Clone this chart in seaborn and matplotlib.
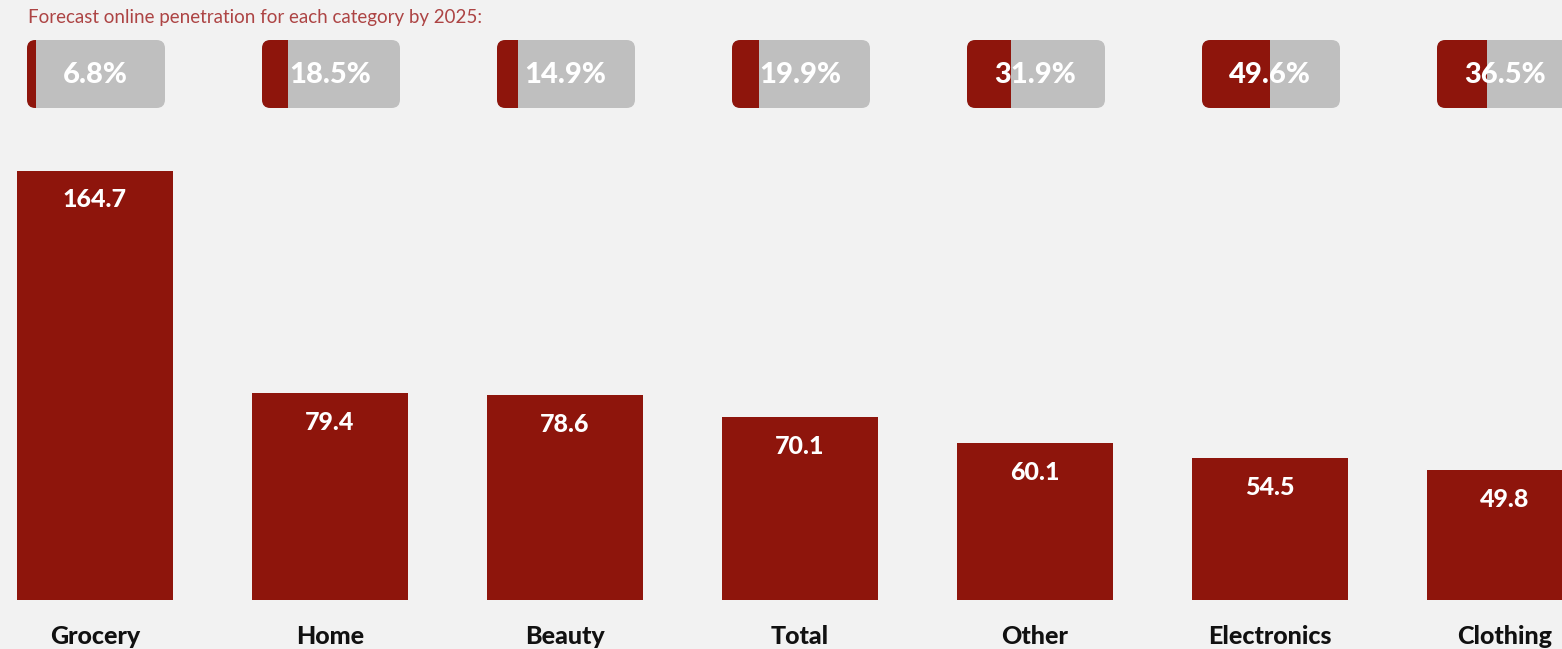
import matplotlib
matplotlib.use("Agg")
import matplotlib.pyplot as plt
import seaborn as sns
import pandas as pd
from matplotlib.patches import FancyBboxPatch, Rectangle

categories = ["Grocery", "Home", "Beauty", "Total", "Other", "Electronics", "Clothing"]
spend = [164.7, 79.4, 78.6, 70.1, 60.1, 54.5, 49.8]
penetration = [6.8, 18.5, 14.9, 19.9, 31.9, 49.6, 36.5]
title = "Forecast online penetration for each category by 2025:"

RED = "#8E150C"
GRAY = "#BFBFBF"
BG = "#F2F2F2"

sns.set_theme(style="white")
plt.rcParams["font.family"] = ["Lato", "DejaVu Sans"]

W, H = 1562, 649
fig = plt.figure(figsize=(W / 100, H / 100), dpi=100, facecolor=BG)
ax = fig.add_axes([0, 49 / H, 1, 600 / H])
ax.set_facecolor(BG)

df = pd.DataFrame({"cat": categories, "val": spend})
sns.barplot(data=df, x="cat", y="val", color=RED, width=0.66, ax=ax,
            saturation=1, edgecolor="none")

px_per_x = 235.0
ymax = 600 / 2.605
ax.set_xlim(-95 / px_per_x, (W - 95) / px_per_x)
ax.set_ylim(0, ymax)
for s in ax.spines.values():
    s.set_visible(False)
ax.set_yticks([])
ax.set_xlabel("")
ax.set_ylabel("")
ax.tick_params(axis="x", length=0, pad=18)
ax.set_xticks(range(len(categories)))
ax.set_xticklabels(categories, fontsize=18, fontweight="black", color="#111111")

# value labels inside bars
for i, v in enumerate(spend):
    ax.text(i, v - 29 / 2.605, f"{v:.1f}", ha="center", va="center",
            color="white", fontsize=18, fontweight="black")

# penetration pills
pill_w = 138 / px_per_x
y_top = ymax - 40 / 2.605
y_bot = ymax - 108 / 2.605
aspect = px_per_x / 2.605
for i, p in enumerate(penetration):
    x0 = i - pill_w / 2 + 1 / px_per_x
    pill = FancyBboxPatch((x0, y_bot), pill_w, y_top - y_bot,
                          boxstyle="round,pad=0,rounding_size=0.036",
                          mutation_aspect=aspect, facecolor=GRAY,
                          edgecolor="none", clip_on=False, zorder=3)
    ax.add_patch(pill)
    fill = Rectangle((x0, y_bot), pill_w * p / 100, y_top - y_bot,
                     facecolor=RED, edgecolor="none", zorder=4)
    ax.add_patch(fill)
    fill.set_clip_path(pill)
    ax.text(i, (y_top + y_bot) / 2 - 1 / 2.605, f"{p}%", ha="center", va="center",
            color="white", fontsize=21, fontweight="black", zorder=5)

fig.text(28 / W, 1 - 17 / H, title, ha="left", va="center",
         color="#AD4444", fontsize=13.5, fontweight="normal")

fig.savefig("out.png", dpi=100, facecolor=BG)
